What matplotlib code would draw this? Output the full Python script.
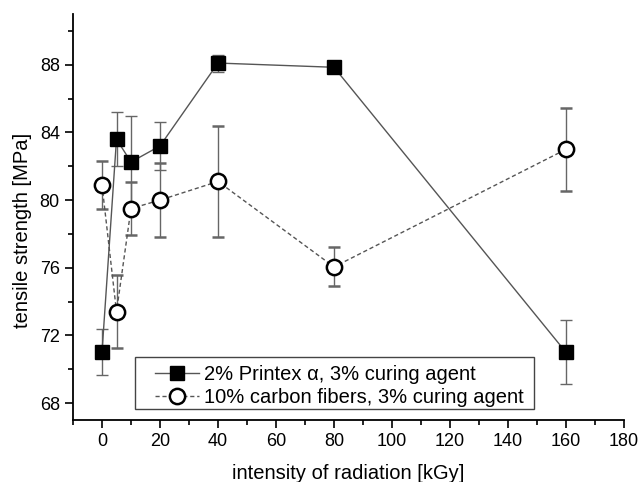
import matplotlib
matplotlib.use("Agg")
import matplotlib.pyplot as plt
from matplotlib.ticker import MultipleLocator
from matplotlib.patches import Rectangle
from matplotlib.lines import Line2D

plt.rcParams['font.family'] = ['Liberation Sans', 'DejaVu Sans']

# Data
dose = [0, 5, 10, 20, 40, 80, 160]
printex = [71.0, 83.6, 82.25, 83.2, 88.1, 87.85, 71.0]
printex_err = [1.35, 1.6, 2.7, 1.4, 0.5, 0.2, 1.9]
carbon = [80.9, 73.4, 79.5, 80.0, 81.1, 76.05, 83.0]
carbon_err = [1.4, 2.15, 1.55, 2.2, 3.3, 1.15, 2.45]
labels = ['2% Printex α, 3% curing agent', '10% carbon fibers, 3% curing agent']

fig = plt.figure(figsize=(6.39, 4.82), dpi=100)
# axes box in pixels: left 73, right 624, bottom 420, top 14
ax = fig.add_axes([73 / 639, 62 / 482, 551 / 639, 406 / 482])

sq_style = dict(color='#555555', lw=1, marker='s', ms=10.5, mfc='black', mec='black')
ci_style = dict(color='#555555', lw=1, ls=(0, (3, 2)), marker='o', ms=11,
                mfc='white', mec='black', mew=1.8)

ax.errorbar(dose, printex, yerr=printex_err, capsize=4, elinewidth=1,
            ecolor='#666666', zorder=3, **sq_style)
ax.errorbar(dose, carbon, yerr=carbon_err, capsize=4, elinewidth=1,
            ecolor='#666666', zorder=4, **ci_style)

ax.set_xlim(-10, 180)
ax.set_ylim(67, 91)
ax.xaxis.set_major_locator(MultipleLocator(20))
ax.xaxis.set_minor_locator(MultipleLocator(10))
ax.yaxis.set_minor_locator(MultipleLocator(2))
ax.set_yticks([68, 72, 76, 80, 84, 88])
ax.tick_params(which='major', direction='out', length=5.5, width=1.2,
               labelsize=13, pad=4)
ax.tick_params(which='minor', direction='out', length=3.5, width=1.2)
for s in ['top', 'right']:
    ax.spines[s].set_visible(False)
for s in ['left', 'bottom']:
    ax.spines[s].set_linewidth(1.3)

ax.set_xlabel('intensity of radiation [kGy]', fontsize=14.5, labelpad=10)
ax.set_ylabel('tensile strength [MPa]', fontsize=14.5)
ax.yaxis.set_label_coords(-0.074, 0.468)

# legend without its own frame, boxed with a rectangle like the original
handles = [Line2D([], [], **sq_style), Line2D([], [], **ci_style)]
leg = ax.legend(handles, labels, loc='upper left',
                bbox_to_anchor=(82 / 551, 55 / 406),
                fontsize=14.5, frameon=False, handlelength=2.2,
                handletextpad=0.25, borderpad=0, borderaxespad=0,
                labelspacing=0.2)
ax.add_patch(Rectangle((62 / 551, 11 / 406), 399 / 551, 52 / 406,
                       transform=ax.transAxes, fill=False,
                       edgecolor='#444444', lw=1, zorder=5))

fig.savefig('out.png', dpi=100)
